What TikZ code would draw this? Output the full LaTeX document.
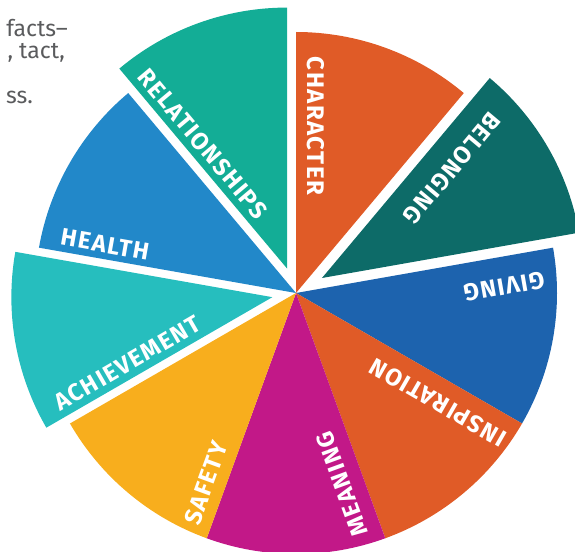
\documentclass[tikz,border=0pt]{standalone}
\usepackage{fontspec}
\setmainfont{Fira Sans}
\newfontfamily\pielabelfont[LetterSpace=6]{Fira Sans}
\definecolor{cOrange}{HTML}{E05B27}
\definecolor{cDarkTeal}{HTML}{0D6B68}
\definecolor{cBlue}{HTML}{1D63AE}
\definecolor{cMagenta}{HTML}{C21888}
\definecolor{cYellow}{HTML}{F8AE1D}
\definecolor{cTurq}{HTML}{26BEBE}
\definecolor{cSky}{HTML}{2288C9}
\definecolor{cGreen}{HTML}{13AD96}
\definecolor{sidegray}{HTML}{5A5B5D}
\newcommand{\pieslice}[4]{\fill[#1] (#2) -- ++(#3:261) arc[start angle=#3, end angle=#4, radius=261] -- cycle;}
\begin{document}
\begin{tikzpicture}[x=1pt,y=1pt,
  lbl/.style={text=white,font=\pielabelfont\fontsize{24}{24}\selectfont\bfseries,inner sep=0pt},
  side/.style={text=sidegray,font=\fontsize{23}{23}\selectfont,inner sep=0pt,anchor=base east}]
\useasboundingbox (-296,-258) rectangle (279,293);
\clip (-296,-258) rectangle (279,293);
\coordinate (O) at (0,0);
\coordinate (Ob) at (30:30);
\coordinate (Or) at (110:26);
\coordinate (Oa) at (190:24);
% slices
\pieslice{cOrange}{O}{50}{90}
\pieslice{cDarkTeal}{Ob}{10}{50}
\pieslice{cBlue}{O}{-30}{10}
\pieslice{cOrange}{O}{-70}{-30}
\pieslice{cMagenta}{O}{-110}{-70}
\pieslice{cYellow}{O}{-150}{-110}
\pieslice{cTurq}{Oa}{170}{210}
\pieslice{cSky}{O}{130}{170}
\pieslice{cGreen}{Or}{90}{130}
% labels
\node[lbl,rotate=-90] (character) at (20,167) {CHARACTER};
\node[lbl,rotate=230] (belonging) at (156,125) {BELONGING};
\node[lbl,rotate=190] (giving) at (208,6.5) {GIVING};
\node[lbl,rotate=150] (inspiration) at (142,-109.5) {INSPIRATION};
\node[lbl,rotate=110] (meaning) at (46,-191) {MEANING};
\node[lbl,rotate=70] (safety) at (-90,-190) {SAFETY};
\node[lbl,rotate=30] (achievement) at (-168.5,-70) {ACHIEVEMENT};
\node[lbl,rotate=-10] (health) at (-191,48.5) {HEALTH};
\node[lbl,rotate=-50] (relationships) at (-93,149) {RELATIONSHIPS};
% cut-off side text
\node[side] (t1) at (-228,256) {facts–};
\node[side] (t2) at (-231,234) {, tact,};
\node[side] (t3) at (-263,189) {ss.};
\end{tikzpicture}
\end{document}
